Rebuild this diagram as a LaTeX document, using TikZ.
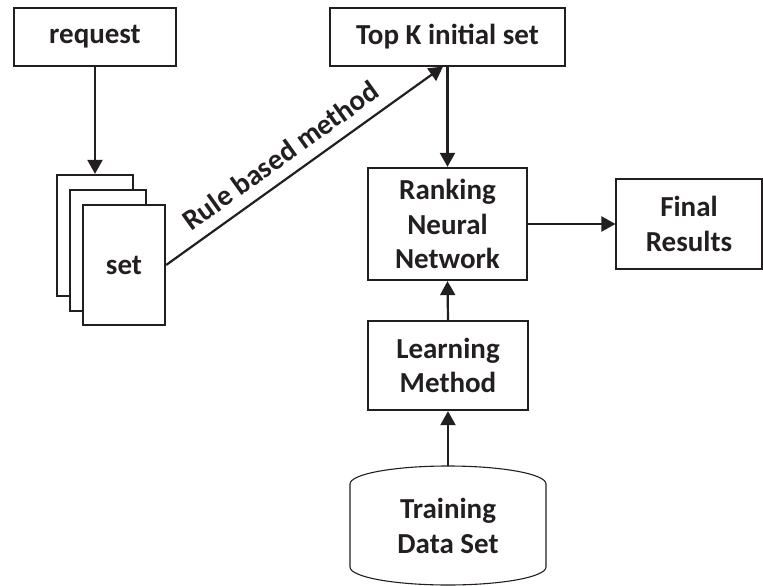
\documentclass[tikz,border=0pt]{standalone}
\usepackage{fontspec}
\setmainfont{Carlito}
\usetikzlibrary{arrows.meta}
\definecolor{ink}{HTML}{231F20}
\tikzset{
  lbl/.style={font=\fontsize{29}{34.5}\selectfont\bfseries, align=center, inner sep=0pt, text=ink},
  thinbox/.style={lbl, draw=ink, line width=1.1pt, fill=white},
  thickbox/.style={lbl, draw=ink, line width=2.3pt, fill=white},
  conn/.style={draw=ink, line width=2.2pt, -{Triangle[length=14pt,width=15pt]}},
}
\begin{document}
\begin{tikzpicture}[x=1pt,y=-1pt]
\useasboundingbox (0,0) rectangle (763,586);
\node[thinbox, minimum width=162pt, minimum height=58pt] (req) at (95,37) {request};
\node[thinbox, minimum width=235pt, minimum height=58pt] (topk) at (447.5,37) {Top K initial set};
\node[thickbox, minimum width=76pt, minimum height=121pt] (p1) at (95,235.5) {};
\node[thickbox, minimum width=76pt, minimum height=121pt] (p2) at (108,250.5) {};
\node[thickbox, minimum width=82pt, minimum height=120pt] (p3) at (124,265) {set};
\node[thickbox, minimum width=159pt, minimum height=112pt] (rank) at (447.5,224) {Ranking\\Neural\\Network};
\node[thinbox, minimum width=146pt, minimum height=90pt] (final) at (689,224) {Final\\Results};
\node[thickbox, minimum width=160pt, minimum height=89pt] (learn) at (448,365.5) {Learning\\Method};
\node[lbl, minimum width=196pt, minimum height=119pt] (train) at (448,526) {Training\\Data Set};
\draw[draw=ink, line width=1.1pt]
  (350,484) .. controls (350,474) and (394,466) .. (448,466)
  .. controls (502,466) and (546,474) .. (546,484)
  -- (546,567) .. controls (546,577) and (502,585) .. (448,585)
  .. controls (394,585) and (350,577) .. (350,567) -- cycle;
\draw[conn] (req.south) -- (p1.north);
\draw[conn] (p3.east) -- node[pos=0.46, sloped, above=11pt, lbl] {Rule based method} (topk.south -| 443,0);
\draw[conn] (topk.south) -- (rank.north);
\draw[conn] (rank.east) -- (final.west);
\draw[conn] (learn.north) -- (rank.south);
\draw[conn] (train.north) -- (learn.south);
\end{tikzpicture}
\end{document}
